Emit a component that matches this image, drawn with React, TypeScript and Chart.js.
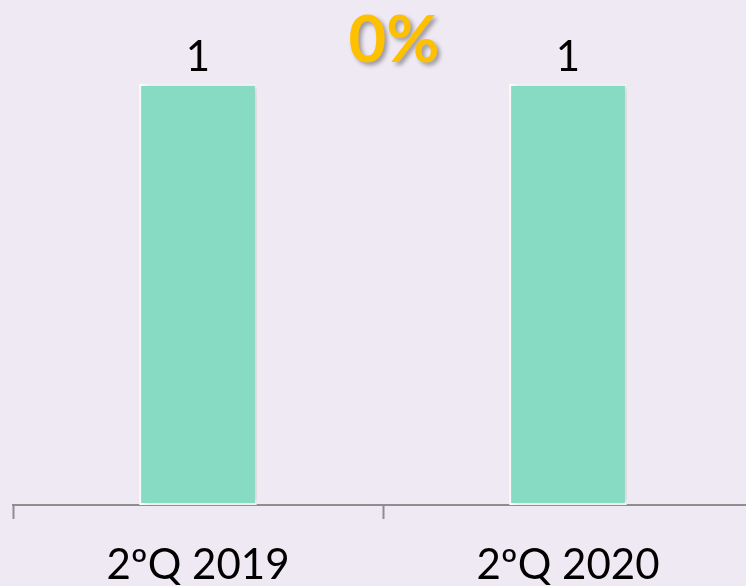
import React, { useEffect, useRef } from "react";
import { Chart, registerables } from "chart.js";

Chart.register(...registerables);

const categories = ["2ºQ 2019", "2ºQ 2020"];
const values = [1, 1];
const changeLabel = "0%";

const BG = "#EFE9F4";

const labelPlugin = {
  id: "valueLabels",
  beforeDatasetsDraw(chart: any) {
    const ctx = chart.ctx;
    ctx.save();
    ctx.shadowColor = "rgba(0,0,0,0.18)";
    ctx.shadowBlur = 6;
    ctx.shadowOffsetX = 3;
    ctx.shadowOffsetY = 0;
  },
  afterDatasetsDraw(chart: any) {
    const ctx = chart.ctx;
    ctx.restore();
    const meta = chart.getDatasetMeta(0);
    ctx.save();
    ctx.fillStyle = "#000";
    ctx.font = "42px Lato";
    ctx.textAlign = "center";
    ctx.textBaseline = "alphabetic";
    meta.data.forEach((bar: any, i: number) => {
      ctx.fillText(String(values[i]), bar.x, bar.y - 13);
    });
    const x0 = meta.data[0].x;
    const x1 = meta.data[1].x;
    ctx.font = "bold 65px Lato";
    ctx.shadowColor = "rgba(0,0,0,0.35)";
    ctx.shadowBlur = 4;
    ctx.shadowOffsetX = 3;
    ctx.shadowOffsetY = 3;
    ctx.fillStyle = "#FFC000";
    ctx.fillText(changeLabel, (x0 + x1) / 2 + 11, 62);
    ctx.restore();
  },
};

export default function App() {
  const ref = useRef<HTMLCanvasElement | null>(null);
  useEffect(() => {
    if (!ref.current) return;
    const chart = new Chart(ref.current, {
      type: "bar",
      data: {
        labels: categories,
        datasets: [
          {
            data: values,
            backgroundColor: "#88DBC3",
            borderColor: "#FFFFFF",
            borderWidth: 2,
            borderSkipped: false,
            barPercentage: 0.318,
            categoryPercentage: 1,
          },
        ],
      },
      options: {
        responsive: false,
        animation: false,
        layout: { padding: { top: 84, left: 13, right: 7, bottom: 0 } },
        plugins: { legend: { display: false }, tooltip: { enabled: false } },
        scales: {
          x: {
            offset: true,
            grid: {
              display: true,
              drawOnChartArea: false,
              drawTicks: true,
              tickLength: 14,
              tickWidth: 2,
              tickColor: "#8E8E8E",
              offset: true,
            },
            border: { display: true, color: "#8E8E8E", width: 2 },
            ticks: {
              color: "#000",
              font: { family: "Lato", size: 42 },
              padding: 21,
            },
            afterFit(scale: any) {
              scale.height = 81;
            },
          },
          y: { display: false, min: 0, max: 1 },
        },
      },
      plugins: [labelPlugin],
    });
    return () => chart.destroy();
  }, []);
  return (
    <div
      style={{
        position: "fixed",
        left: 0,
        top: 0,
        width: 746,
        height: 586,
        overflow: "hidden",
        background: BG,
      }}
    >
      <canvas ref={ref} width={760} height={586} style={{ width: 760, height: 586, display: "block" }} />
    </div>
  );
}
